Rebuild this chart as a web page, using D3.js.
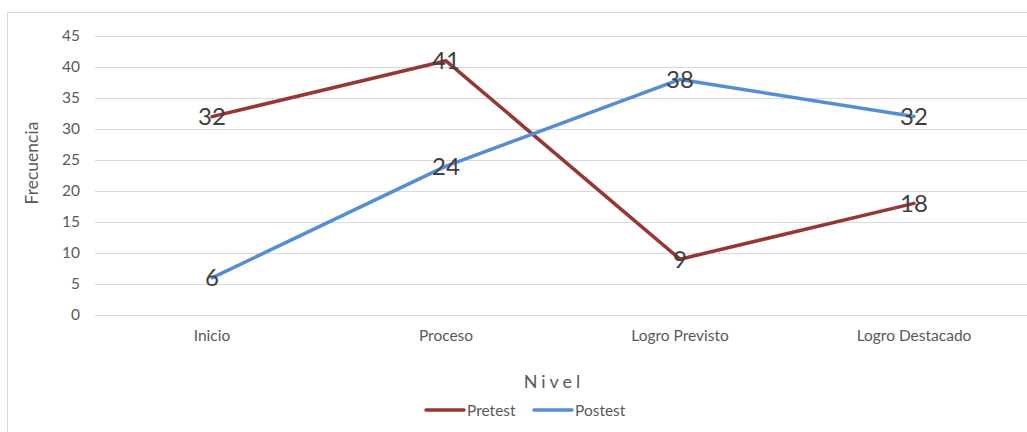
<!DOCTYPE html>
<html>
<head>
<meta charset="utf-8">
<script src="https://cdn.jsdelivr.net/npm/d3@7"></script>
<style>
  html, body { margin: 0; padding: 0; background: #fff; }
  svg { display: block; font-family: Lato, "Open Sans", sans-serif; }
</style>
</head>
<body>
<svg id="chart" width="1027" height="432"></svg>
<script>
// Niveles evaluados
const categories = ["Inicio", "Proceso", "Logro Previsto", "Logro Destacado"];
// Frecuencias por grupo
const pretest = [32, 41, 9, 18];
const postest = [6, 24, 38, 32];
const yTicks = [0, 5, 10, 15, 20, 25, 30, 35, 40, 45];
const seriesNames = ["Pretest", "Postest"];
const seriesColors = ["#953735", "#558ED5"];

const svg = d3.select("#chart");
const W = 1027, H = 432;
const FONT = "Lato, 'Open Sans', sans-serif";

// Outer frame of the chart area
svg.append("rect")
  .attr("x", 7.5).attr("y", 12.5)
  .attr("width", W + 20).attr("height", H + 20)
  .attr("fill", "#fff").attr("stroke", "#d9d9d9").attr("stroke-width", 1);

const plot = { left: 95, right: 1031, top: 36, bottom: 315 };

const x = d3.scaleBand().domain(categories).range([plot.left, plot.right]).padding(0);
const y = d3.scaleLinear().domain([0, 45]).range([plot.bottom, plot.top]);

// Horizontal gridlines
svg.append("g")
  .selectAll("line")
  .data(yTicks)
  .join("line")
  .attr("x1", plot.left).attr("x2", plot.right)
  .attr("y1", d => Math.round(y(d)) + 0.5).attr("y2", d => Math.round(y(d)) + 0.5)
  .attr("stroke", "#d9d9d9").attr("stroke-width", 1);

// Y axis labels
const yAxis = d3.axisLeft(y).tickValues(yTicks).tickSize(0).tickPadding(0);
const gy = svg.append("g").attr("transform", `translate(${plot.left - 15},0)`).call(yAxis);
gy.select(".domain").remove();
gy.selectAll("text").attr("fill", "#595959").style("font-size", "15.5px")
  .style("font-family", FONT);

// X axis labels
const xAxis = d3.axisBottom(x).tickSize(0).tickPadding(0);
const gx = svg.append("g").attr("transform", `translate(0,${plot.bottom + 15})`).call(xAxis);
gx.select(".domain").remove();
gx.selectAll("text").attr("fill", "#595959").style("font-size", "15.5px")
  .style("font-family", FONT);

// Axis titles
svg.append("text")
  .attr("transform", `translate(38,163) rotate(-90)`)
  .attr("text-anchor", "middle")
  .attr("fill", "#595959").style("font-size", "17.5px")
  .text("Frecuencia");

svg.append("text")
  .attr("x", 554).attr("y", 388)
  .attr("text-anchor", "middle")
  .attr("fill", "#595959").style("font-size", "18px")
  .style("letter-spacing", "4px")
  .text("Nivel");

// Lines
const cx = c => x(c) + x.bandwidth() / 2;
const line = d3.line().x(d => cx(d.c)).y(d => y(d.v));
const seriesData = [pretest, postest].map((vals, i) => ({
  name: seriesNames[i],
  color: seriesColors[i],
  points: categories.map((c, j) => ({ c, v: vals[j] }))
}));

svg.append("g").selectAll("path")
  .data(seriesData)
  .join("path")
  .attr("d", d => line(d.points))
  .attr("fill", "none")
  .attr("stroke", d => d.color)
  .attr("stroke-width", 3.5)
  .attr("stroke-linejoin", "round")
  .attr("stroke-linecap", "round");

// Data labels centered on each point
seriesData.forEach(s => {
  svg.append("g").selectAll("text")
    .data(s.points)
    .join("text")
    .attr("x", d => cx(d.c))
    .attr("y", d => y(d.v))
    .attr("dy", "0.36em")
    .attr("text-anchor", "middle")
    .attr("fill", "#404040")
    .style("font-size", "24px")
    .text(d => d.v);
});

// Legend
const legend = svg.append("g");
const legendItems = [
  { name: seriesNames[0], color: seriesColors[0], x0: 426, tx: 467 },
  { name: seriesNames[1], color: seriesColors[1], x0: 534, tx: 575 }
];
legendItems.forEach(it => {
  legend.append("line")
    .attr("x1", it.x0).attr("x2", it.x0 + 38)
    .attr("y1", 410).attr("y2", 410)
    .attr("stroke", it.color).attr("stroke-width", 3.5)
    .attr("stroke-linecap", "round");
  legend.append("text")
    .attr("x", it.tx).attr("y", 410).attr("dy", "0.36em")
    .attr("fill", "#595959").style("font-size", "15.5px")
    .text(it.name);
});
</script>
</body>
</html>
